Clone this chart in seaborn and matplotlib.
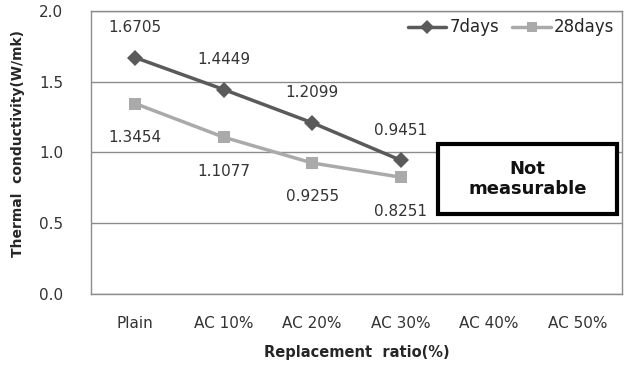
import matplotlib
matplotlib.use("Agg")
import matplotlib.pyplot as plt
import seaborn as sns
import pandas as pd
from matplotlib.lines import Line2D
from matplotlib.patches import Rectangle

categories = ["Plain", "AC 10%", "AC 20%", "AC 30%", "AC 40%", "AC 50%"]
days7 = [1.6705, 1.4449, 1.2099, 0.9451]
days28 = [1.3454, 1.1077, 0.9255, 0.8251]
series_names = ["7days", "28days"]

sns.set_style("white")
plt.rcParams['font.family'] = ['DejaVu Sans']

rows = []
for name, vals in zip(series_names, [days7, days28]):
    for i, v in enumerate(vals):
        rows.append({"x": i, "y": v, "series": name})
df = pd.DataFrame(rows)

fig = plt.figure(figsize=(6.32, 3.66), dpi=100)
ax = fig.add_axes([0.144, 0.197, 0.840, 0.773])

c7 = "#5a5a5a"
c28 = "#aaaaaa"
palette = {"7days": c7, "28days": c28}
sns.lineplot(data=df, x="x", y="y", hue="series", style="series",
             markers={"7days": "D", "28days": "s"}, dashes=False,
             palette=palette, linewidth=2.5, markersize=8, markeredgewidth=0,
             ax=ax, legend=False)

ax.set_xlim(-0.5, 5.5)
ax.set_ylim(0, 2.0)
ax.set_yticks([0, 0.5, 1.0, 1.5, 2.0])
ax.set_yticklabels(["0.0", "0.5", "1.0", "1.5", "2.0"])
ax.set_xticks(range(len(categories)))
ax.set_xticklabels(categories)
ax.yaxis.grid(True, color="#8c8c8c", linewidth=1)
ax.set_axisbelow(True)
for s in ax.spines.values():
    s.set_color("#8c8c8c")
    s.set_linewidth(1)
ax.tick_params(axis="both", length=0, labelsize=11, colors="#333333")
ax.tick_params(axis="x", pad=16)
ax.tick_params(axis="y", pad=20)

ax.set_xlabel("Replacement  ratio(%)", fontsize=10.5, fontweight="bold", labelpad=10)
ax.set_ylabel("Thermal  conductivity(W/mk)", fontsize=10, fontweight="bold", labelpad=5)
ax.yaxis.set_label_coords(-0.125, 0.53)

for i, v in enumerate(days7):
    ax.annotate(f"{v:.4f}", (i, v), xytext=(0, 30), textcoords="offset pixels",
                ha="center", va="center", fontsize=11, color="#333333")
for i, v in enumerate(days28):
    ax.annotate(f"{v:.4f}", (i, v), xytext=(0, -34), textcoords="offset pixels",
                ha="center", va="center", fontsize=11, color="#333333")

# Not measurable box
bx, by, bw, bh = 3.42, 0.565, 2.03, 0.495
box = Rectangle((bx, by), bw, bh, transform=ax.transData,
                fill=True, facecolor="white", edgecolor="black", linewidth=3,
                zorder=5, clip_on=False)
ax.add_patch(box)
ax.text(bx + bw / 2, by + bh / 2, "Not\nmeasurable", ha="center", va="center",
        fontsize=13, fontweight="bold", zorder=6, linespacing=1.15, color="#111111")

handles = [Line2D([], [], color=c7, marker="D", linewidth=2.5, markersize=7, markeredgewidth=0),
           Line2D([], [], color=c28, marker="s", linewidth=2.5, markersize=7, markeredgewidth=0)]
ax.legend(handles, series_names, loc="upper right", frameon=False, fontsize=12,
          ncol=2, handlelength=2.3, columnspacing=0.8, handletextpad=0.2,
          bbox_to_anchor=(1.0, 1.0), borderaxespad=0.05)

fig.savefig("out.png", dpi=100)
